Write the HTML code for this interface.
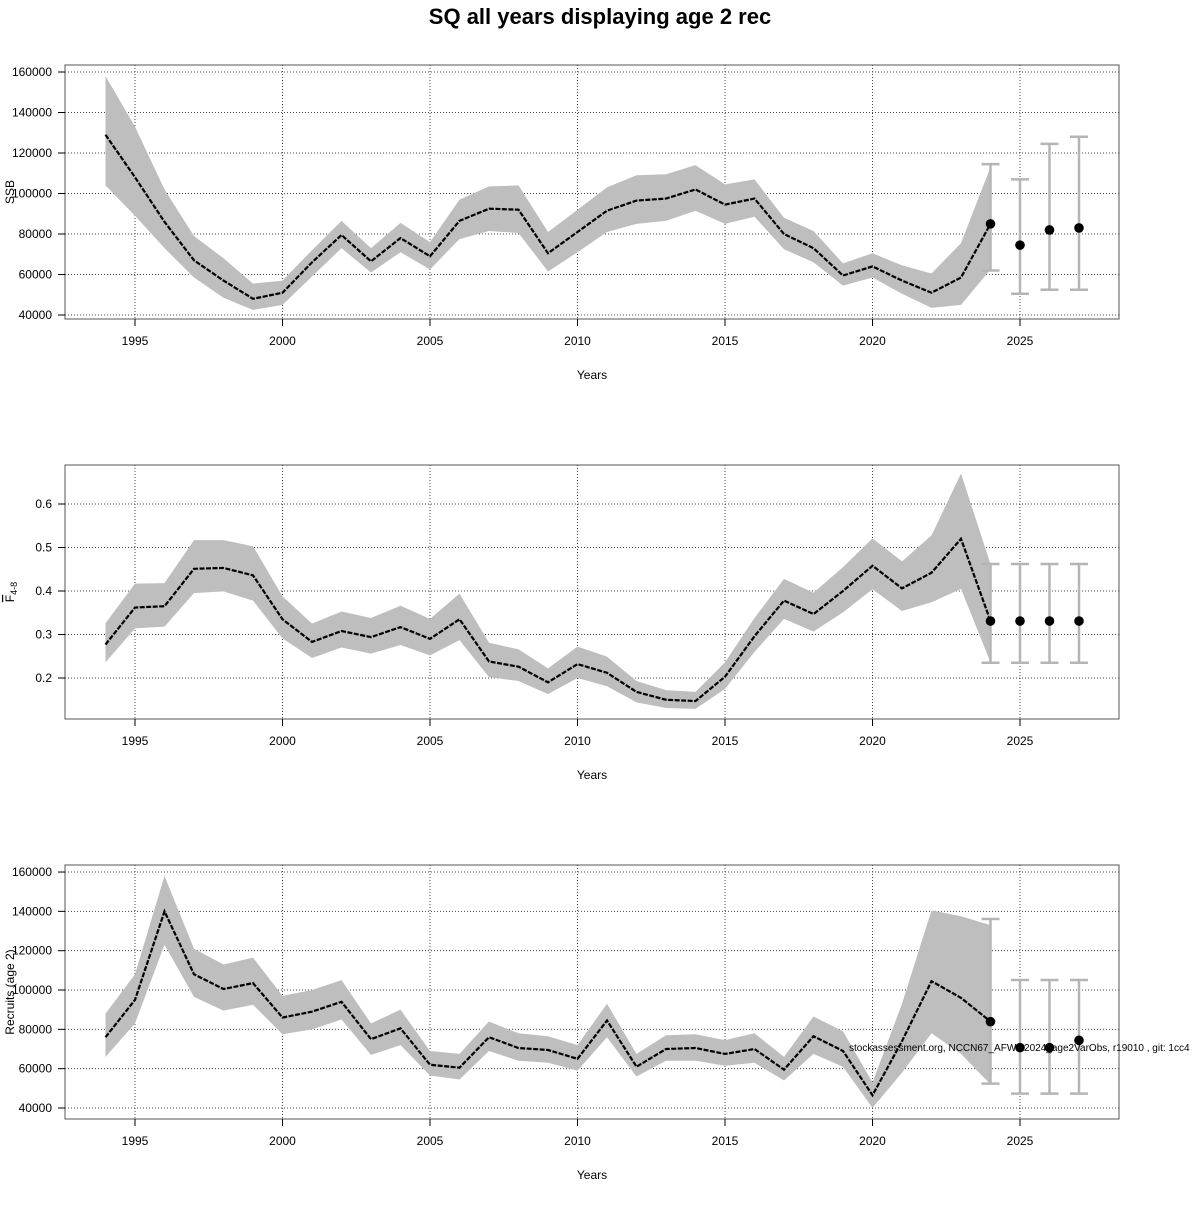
<!DOCTYPE html>
<html><head><meta charset="utf-8"><style>
html,body{margin:0;padding:0;background:#fff;}
svg text{font-family:"Liberation Sans",sans-serif;}
</style></head><body>
<svg id="chart" width="1200" height="1200" xmlns="http://www.w3.org/2000/svg">
<text x="600" y="24" text-anchor="middle" font-size="22" font-weight="bold">SQ all years displaying age 2 rec</text>
</svg>
<script>
const years=[1994,1995,1996,1997,1998,1999,2000,2001,2002,2003,2004,2005,2006,2007,2008,2009,2010,2011,2012,2013,2014,2015,2016,2017,2018,2019,2020,2021,2022,2023,2024];
const projYears=[2024,2025,2026,2027];
const xTicks=[1995,2000,2005,2010,2015,2020,2025];
const ssb=[129000,108000,86000,67000,57000,48000,51000,66000,79500,66500,78000,69000,86500,92500,92000,70500,81000,91500,96500,97500,102000,94500,97500,80000,73000,59500,64000,57000,51000,58500,85000];
const ssbHi=[158000,133000,102000,79000,68000,55500,57000,72000,86500,73000,85500,76000,97000,103500,104000,81000,92000,103000,109000,109500,114000,104500,107000,88000,81500,65500,70500,64500,60500,75500,113000];
const ssbLo=[104000,89000,73000,58500,48500,42500,45000,59000,73000,61000,71000,62500,77500,81500,80500,61500,71000,81000,85000,86500,91500,85000,88500,72500,66000,54500,58500,50500,43500,45000,62500];
const ssbProj=[85000,74500,82000,83000];
const ssbProjHi=[114500,107000,124500,128000];
const ssbProjLo=[62000,50500,52500,52500];
const ssbTicks=[40000,60000,80000,100000,120000,140000,160000];
const fbar=[0.277,0.362,0.365,0.451,0.453,0.436,0.335,0.283,0.308,0.294,0.317,0.290,0.335,0.238,0.226,0.190,0.232,0.212,0.168,0.150,0.147,0.203,0.296,0.378,0.347,0.400,0.458,0.406,0.442,0.520,0.331];
const fbarHi=[0.326,0.417,0.418,0.517,0.517,0.503,0.388,0.325,0.353,0.338,0.366,0.336,0.394,0.281,0.266,0.222,0.272,0.249,0.193,0.172,0.168,0.236,0.338,0.428,0.396,0.455,0.521,0.468,0.528,0.670,0.462];
const fbarLo=[0.236,0.314,0.318,0.395,0.399,0.378,0.291,0.246,0.270,0.256,0.276,0.252,0.287,0.202,0.193,0.163,0.200,0.181,0.144,0.131,0.129,0.175,0.260,0.336,0.307,0.351,0.404,0.354,0.374,0.405,0.236];
const fProj=[0.331,0.331,0.331,0.331];
const fProjHi=[0.462,0.462,0.462,0.462];
const fProjLo=[0.235,0.235,0.235,0.235];
const fTicks=[0.2,0.3,0.4,0.5,0.6];
const rec=[76000,95000,140000,108000,100500,103500,86000,89000,94000,75000,80500,62000,60500,76000,70500,69500,65000,84500,61000,70000,70500,67500,70000,59500,76500,69000,46500,74000,104500,96000,84000];
const recHi=[88000,108000,158000,121000,113000,116500,97000,100000,105000,83000,90000,69000,67500,84000,78000,76500,72000,93000,67500,77000,77500,74500,78000,66000,86500,79000,53000,93000,140500,137500,133000];
const recLo=[66000,83000,123000,96500,89500,92500,77500,80000,85000,67000,72000,56500,54500,69000,64000,63000,59000,76000,56000,64000,64000,61500,63000,54000,67500,61000,40000,58000,78000,67500,52000];
const recProj=[83900,70700,70700,74400];
const recProjHi=[136100,105100,105100,105100];
const recProjLo=[52400,47300,47300,47300];
const recTicks=[40000,60000,80000,100000,120000,140000,160000];

const NS="http://www.w3.org/2000/svg";
const svg=document.getElementById('chart');
function mk(tag,attrs,parent){const e=document.createElementNS(NS,tag);for(const k in attrs)e.setAttribute(k,attrs[k]);(parent||svg).appendChild(e);return e;}
const X0=65,X1=1119;
function xs(y){return 105.5+(y-1994)*29.5;}

function panel(cfg){
  const g=mk('g',{});
  
  
  const ys=v=>cfg.yb-(v-cfg.v0)*cfg.k;
  // grid
  xTicks.forEach(t=>{const l=mk('line',{x1:xs(t),x2:xs(t),y1:cfg.top,y2:cfg.bot,stroke:'#444','stroke-width':1,'stroke-dasharray':'1,2'},g);
    });
  cfg.ticks.forEach(t=>{const l=mk('line',{x1:X0,x2:X1,y1:ys(t),y2:ys(t),stroke:'#444','stroke-width':1,'stroke-dasharray':'1,2'},g);
    });
  // band
  let pts=years.map((y,i)=>xs(y)+','+ys(cfg.hi[i])).concat(years.slice().reverse().map((y,j)=>xs(y)+','+ys(cfg.lo[years.length-1-j])));
  const b=mk('polygon',{points:pts.join(' '),fill:'#bebebe',stroke:'none'},g);
  
  // line
  const ln=mk('polyline',{points:years.map((y,i)=>xs(y)+','+ys(cfg.v[i])).join(' '),fill:'none',stroke:'#000','stroke-width':2.2,'stroke-dasharray':'5,1.5'},g);
  
  // projections
  projYears.forEach((y,i)=>{
    const x=xs(y);
    const e=mk('g',{},g);
    
    mk('line',{x1:x,x2:x,y1:ys(cfg.pHi[i]),y2:ys(cfg.pLo[i]),stroke:'#b5b5b5','stroke-width':2.5},e);
    mk('line',{x1:x-9,x2:x+9,y1:ys(cfg.pHi[i]),y2:ys(cfg.pHi[i]),stroke:'#b5b5b5','stroke-width':2.5},e);
    mk('line',{x1:x-9,x2:x+9,y1:ys(cfg.pLo[i]),y2:ys(cfg.pLo[i]),stroke:'#b5b5b5','stroke-width':2.5},e);
    const c=mk('circle',{cx:x,cy:ys(cfg.p[i]),r:4.8,fill:'#000'},g);
    
  });
  // frame
  const f=mk('rect',{x:X0,y:cfg.top,width:X1-X0,height:cfg.bot-cfg.top,fill:'none',stroke:'#555','stroke-width':1},g);
  
  // x ticks
  xTicks.forEach(t=>{mk('line',{x1:xs(t),x2:xs(t),y1:cfg.bot,y2:cfg.bot+7,stroke:'#000'},g);
    const tx=mk('text',{x:xs(t),y:cfg.bot+26,'text-anchor':'middle','font-size':12},g);tx.textContent=t;
    });
  cfg.ticks.forEach(t=>{mk('line',{x1:X0,x2:X0-7,y1:ys(t),y2:ys(t),stroke:'#000'},g);
    const tx=mk('text',{x:X0-13,y:ys(t)+4,'text-anchor':'end','font-size':12},g);tx.textContent=cfg.fmt(t);
    });
  const xt=mk('text',{x:592,y:cfg.bot+60,'text-anchor':'middle','font-size':12},g);xt.textContent='Years';
  
  const yt=mk('text',{x:14,y:(cfg.top+cfg.bot)/2,'text-anchor':'middle','font-size':12,transform:'rotate(-90 14 '+((cfg.top+cfg.bot)/2)+')'},g);
  
  if(cfg.ylabHtml){yt.innerHTML=cfg.ylabHtml;}else yt.textContent=cfg.ylab;
}
panel({name:'ssb',top:65,bot:319,yb:315,v0:40000,k:40.5/20000,ticks:ssbTicks,v:ssb,hi:ssbHi,lo:ssbLo,p:ssbProj,pHi:ssbProjHi,pLo:ssbProjLo,fmt:t=>t,ylab:'SSB'});
panel({name:'fbar',top:465,bot:719,yb:678,v0:0.2,k:435,ticks:fTicks,v:fbar,hi:fbarHi,lo:fbarLo,p:fProj,pHi:fProjHi,pLo:fProjLo,fmt:t=>t.toFixed(1),ylabHtml:'<tspan text-decoration="overline">F</tspan><tspan font-size="9" dy="3">4-8</tspan>'});
panel({name:'recruits',top:865,bot:1119,yb:1108,v0:40000,k:39.33/20000,ticks:recTicks,v:rec,hi:recHi,lo:recLo,p:recProj,pHi:recProjHi,pLo:recProjLo,fmt:t=>t,ylab:'Recruits (age 2)'});
const ft=mk('text',{x:849,y:1051,'font-size':10});
ft.textContent='stockassessment.org, NCCN67_AFWG2024_age2VarObs, r19010 , git: 1cc4';


</script>
</body></html>
